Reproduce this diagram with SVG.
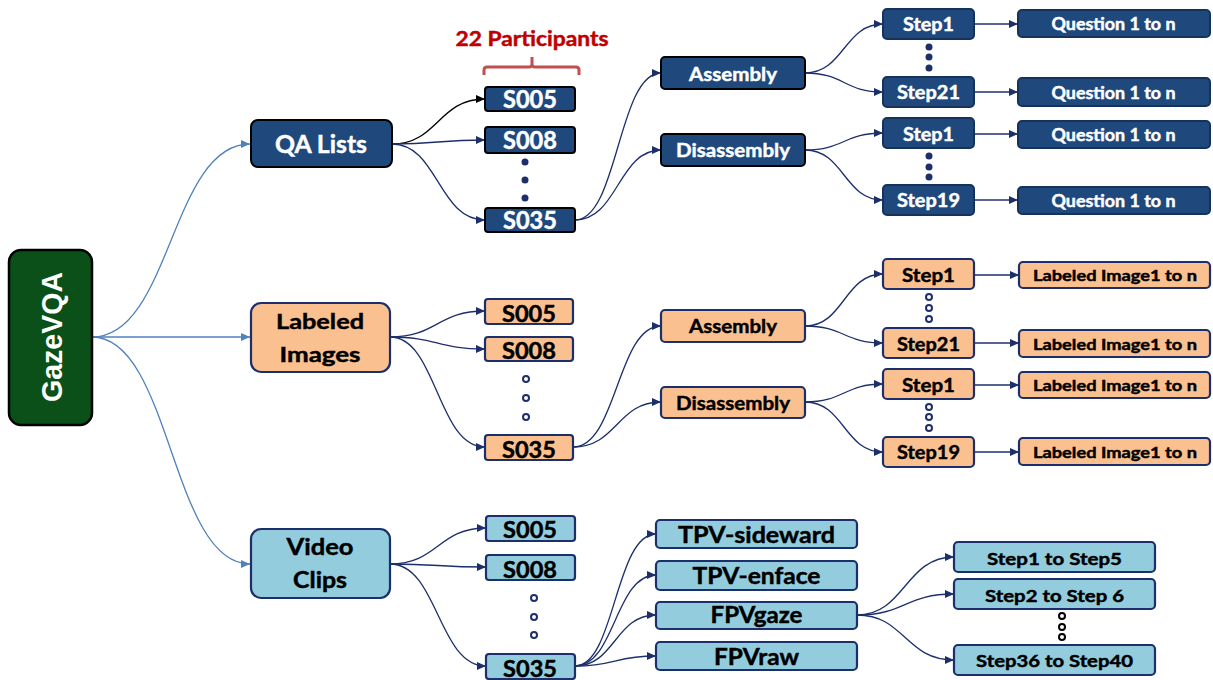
<svg xmlns="http://www.w3.org/2000/svg" width="1213" height="680" viewBox="0 0 1213 680">
<style>
text{font-family:Lato,"Open Sans","Liberation Sans",sans-serif;font-weight:bold;text-anchor:middle;stroke-width:0.45}
.qa{fill:#1f497d;stroke:#000;stroke-width:2}
.qa2{fill:#1f497d;stroke:#14325a;stroke-width:2}
.li{fill:#fac090;stroke:#1c2f6b;stroke-width:2.2}
.vc{fill:#93cddd;stroke:#1c2f6b;stroke-width:2.2}
.tw{fill:#fff;stroke:#fff}
.tb{fill:#000;stroke:#000}
.c{fill:none;stroke:#1c2f6b;stroke-width:1.3;marker-end:url(#an)}
.cb{fill:none;stroke:#4f81bd;stroke-width:1.3;marker-end:url(#ab)}
.ck{fill:none;stroke:#000;stroke-width:1.3;marker-end:url(#ak)}
.df{fill:#1c2f6b}
.dh{fill:#fff;stroke:#1c2f6b;stroke-width:2}
.dk{fill:#fff;stroke:#000;stroke-width:2}
</style>
<defs>
<marker id="an" markerUnits="userSpaceOnUse" markerWidth="9" markerHeight="8" refX="9" refY="4" orient="auto"><path d="M0,0 L9,4 L0,8 z" fill="#1c2f6b"/></marker>
<marker id="ab" markerUnits="userSpaceOnUse" markerWidth="9" markerHeight="8" refX="9" refY="4" orient="auto"><path d="M0,0 L9,4 L0,8 z" fill="#4f81bd"/></marker>
<marker id="ak" markerUnits="userSpaceOnUse" markerWidth="9" markerHeight="8" refX="9" refY="4" orient="auto"><path d="M0,0 L9,4 L0,8 z" fill="#000"/></marker>
</defs>
<rect width="1213" height="680" fill="#fff"/>

<g id="connectors">
<path class="cb" d="M92,337 C171,337 171,144 250,144"/>
<path class="cb" d="M92,337 L250,337"/>
<path class="cb" d="M92,337 C171,337 171,564 250,564"/>
<path class="ck" d="M392,144 C438,144 438,99 485,99"/>
<path class="c" d="M392,144 C438,144 438,140 485,140"/>
<path class="c" d="M392,144 C438,144 438,220 485,220"/>
<path class="c" d="M575,220 C618,220 618,73 661,73"/>
<path class="c" d="M575,220 C618,220 618,150 661,150"/>
<path class="c" d="M805,73 C844,73 844,24 883,24"/>
<path class="c" d="M805,73 C844,73 844,92 883,92"/>
<path class="c" d="M805,150 C844,150 844,133 883,133"/>
<path class="c" d="M805,150 C844,150 844,200 883,200"/>
<path class="c" d="M974,24 L1018,24"/>
<path class="c" d="M974,92 L1018,92"/>
<path class="c" d="M974,134 L1018,134"/>
<path class="c" d="M974,200 L1018,200"/>
<path class="c" d="M390,337 C437,337 437,311 485,311"/>
<path class="c" d="M390,337 C437,337 437,349 485,349"/>
<path class="c" d="M390,337 C437,337 437,447 485,447"/>
<path class="c" d="M573,447 C617,447 617,326 661,326"/>
<path class="c" d="M573,447 C617,447 617,402 661,402"/>
<path class="c" d="M805,326 C844,326 844,274 883,274"/>
<path class="c" d="M805,326 C844,326 844,343 883,343"/>
<path class="c" d="M805,402 C844,402 844,384 883,384"/>
<path class="c" d="M805,402 C844,402 844,452 883,452"/>
<path class="c" d="M974,275 L1019,275"/>
<path class="c" d="M974,343 L1019,343"/>
<path class="c" d="M974,385 L1019,385"/>
<path class="c" d="M974,452 L1019,452"/>
<path class="c" d="M390,564 C438,564 438,528 486,528"/>
<path class="c" d="M390,564 C438,564 438,567 486,567"/>
<path class="c" d="M390,564 C438,564 438,666 486,666"/>
<path class="c" d="M575,666 C615,666 615,534 656,534"/>
<path class="c" d="M575,666 C615,666 615,575 656,575"/>
<path class="c" d="M575,666 C615,666 615,615 656,615"/>
<path class="c" d="M575,666 C615,666 615,656 656,656"/>
<path class="c" d="M857,615 C905,615 905,557 954,557"/>
<path class="c" d="M857,615 C905,615 905,594 954,594"/>
<path class="c" d="M857,615 C905,615 905,660 954,660"/>
</g>

<g id="root">
<rect x="9" y="250" width="83" height="175" rx="12" fill="#0b5018" stroke="#000" stroke-width="2.5"/>
<text transform="translate(62,337) rotate(-90)" style="font-family:'Liberation Sans',Arial,sans-serif;stroke-width:0" font-size="30" fill="#fff" textLength="130" lengthAdjust="spacingAndGlyphs">GazeVQA</text>
</g>

<g id="participants">
<text x="532" y="46" font-size="21" fill="#c00000" stroke="#c00000" textLength="153" lengthAdjust="spacingAndGlyphs">22 Participants</text>
<path d="M484,75 V70 Q484,67 487,67 H529 Q532,67 532,64 V57 M532,64 Q532,67 535,67 H576 Q579,67 579,70 V75" fill="none" stroke="#c0504d" stroke-width="3"/>
</g>

<g id="qa-lists"><rect class="qa" x="251" y="120" width="141" height="47" rx="7"/><text class="tw" x="321" y="153" font-size="25" textLength="92" lengthAdjust="spacingAndGlyphs">QA Lists</text></g>
<g id="qa-s005"><rect class="qa" x="485" y="87" width="90" height="24" rx="3"/><text class="tw" x="530" y="108" font-size="24" textLength="54" lengthAdjust="spacingAndGlyphs">S005</text></g>
<g id="qa-s008"><rect class="qa" x="485" y="127" width="90" height="26" rx="3"/><text class="tw" x="530" y="149" font-size="24" textLength="54" lengthAdjust="spacingAndGlyphs">S008</text></g>
<g id="qa-s035"><rect class="qa" x="485" y="208" width="90" height="24" rx="3"/><text class="tw" x="530" y="229" font-size="24" textLength="54" lengthAdjust="spacingAndGlyphs">S035</text></g>
<g id="qa-dots"><circle class="df" cx="525" cy="162" r="3.5"/><circle class="df" cx="525" cy="180" r="3.5"/><circle class="df" cx="525" cy="198" r="3.5"/></g>
<g id="qa-assembly"><rect class="qa" x="661" y="57" width="144" height="32" rx="4"/><text class="tw" x="733" y="81" font-size="19.5" textLength="88" lengthAdjust="spacingAndGlyphs">Assembly</text></g>
<g id="qa-disassembly"><rect class="qa" x="661" y="134" width="144" height="32" rx="4"/><text class="tw" x="733" y="157" font-size="19.5" textLength="114" lengthAdjust="spacingAndGlyphs">Disassembly</text></g>
<g id="qa-a-step1"><rect class="qa2" x="883" y="9" width="91" height="30" rx="4"/><text class="tw" x="928.5" y="31" font-size="19" textLength="51" lengthAdjust="spacingAndGlyphs">Step1</text></g>
<g id="qa-a-step21"><rect class="qa2" x="883" y="77" width="91" height="30" rx="4"/><text class="tw" x="928.5" y="99" font-size="19" textLength="63" lengthAdjust="spacingAndGlyphs">Step21</text></g>
<g id="qa-d-step1"><rect class="qa2" x="883" y="118" width="91" height="30" rx="4"/><text class="tw" x="928.5" y="141" font-size="19" textLength="51" lengthAdjust="spacingAndGlyphs">Step1</text></g>
<g id="qa-d-step19"><rect class="qa2" x="883" y="185" width="91" height="30" rx="4"/><text class="tw" x="928.5" y="207" font-size="19" textLength="63" lengthAdjust="spacingAndGlyphs">Step19</text></g>
<g id="qa-q1"><rect class="qa2" x="1018" y="10" width="192" height="27" rx="4"/><text class="tw" x="1113.5" y="30" font-size="16.5" textLength="124" lengthAdjust="spacingAndGlyphs">Question 1 to n</text></g>
<g id="qa-q2"><rect class="qa2" x="1018" y="78" width="192" height="28" rx="4"/><text class="tw" x="1113.5" y="98.5" font-size="16.5" textLength="124" lengthAdjust="spacingAndGlyphs">Question 1 to n</text></g>
<g id="qa-q3"><rect class="qa2" x="1018" y="121" width="192" height="27" rx="4"/><text class="tw" x="1113.5" y="141" font-size="16.5" textLength="124" lengthAdjust="spacingAndGlyphs">Question 1 to n</text></g>
<g id="qa-q4"><rect class="qa2" x="1018" y="187" width="192" height="27" rx="4"/><text class="tw" x="1113.5" y="207" font-size="16.5" textLength="124" lengthAdjust="spacingAndGlyphs">Question 1 to n</text></g>
<g id="qa-step-dots"><circle class="df" cx="929" cy="47" r="3.5"/><circle class="df" cx="929" cy="57" r="3.5"/><circle class="df" cx="929" cy="68" r="3.5"/><circle class="df" cx="929" cy="156" r="3.5"/><circle class="df" cx="929" cy="167" r="3.5"/><circle class="df" cx="929" cy="177" r="3.5"/></g>

<g id="labeled-images"><rect class="li" x="251" y="303" width="139" height="69" rx="10"/><text class="tb" x="320" y="329" font-size="21.5" textLength="88" lengthAdjust="spacingAndGlyphs">Labeled</text><text class="tb" x="320" y="362" font-size="21.5" textLength="81" lengthAdjust="spacingAndGlyphs">Images</text></g>
<g id="li-s005"><rect class="li" x="485" y="299" width="88" height="25" rx="3"/><text class="tb" x="529" y="322" font-size="22" textLength="54" lengthAdjust="spacingAndGlyphs">S005</text></g>
<g id="li-s008"><rect class="li" x="485" y="337" width="88" height="24" rx="3"/><text class="tb" x="529" y="359" font-size="22" textLength="54" lengthAdjust="spacingAndGlyphs">S008</text></g>
<g id="li-s035"><rect class="li" x="485" y="435" width="88" height="25" rx="3"/><text class="tb" x="529" y="458" font-size="22" textLength="54" lengthAdjust="spacingAndGlyphs">S035</text></g>
<g id="li-dots"><circle class="dh" cx="526" cy="379" r="3"/><circle class="dh" cx="526" cy="398" r="3"/><circle class="dh" cx="526" cy="417" r="3"/></g>
<g id="li-assembly"><rect class="li" x="661" y="310" width="144" height="32" rx="4"/><text class="tb" x="733" y="333" font-size="19.5" textLength="88" lengthAdjust="spacingAndGlyphs">Assembly</text></g>
<g id="li-disassembly"><rect class="li" x="661" y="387" width="144" height="31" rx="4"/><text class="tb" x="733" y="410" font-size="19.5" textLength="114" lengthAdjust="spacingAndGlyphs">Disassembly</text></g>
<g id="li-a-step1"><rect class="li" x="883" y="259" width="91" height="30" rx="4"/><text class="tb" x="928.5" y="282" font-size="19" textLength="53" lengthAdjust="spacingAndGlyphs">Step1</text></g>
<g id="li-a-step21"><rect class="li" x="883" y="328" width="91" height="30" rx="4"/><text class="tb" x="928.5" y="351" font-size="19" textLength="63" lengthAdjust="spacingAndGlyphs">Step21</text></g>
<g id="li-d-step1"><rect class="li" x="883" y="369" width="91" height="30" rx="4"/><text class="tb" x="928.5" y="392" font-size="19" textLength="53" lengthAdjust="spacingAndGlyphs">Step1</text></g>
<g id="li-d-step19"><rect class="li" x="883" y="437" width="91" height="30" rx="4"/><text class="tb" x="928.5" y="459" font-size="19" textLength="63" lengthAdjust="spacingAndGlyphs">Step19</text></g>
<g id="li-img1"><rect class="li" x="1019" y="262" width="191" height="26" rx="4"/><text class="tb" x="1115" y="281" font-size="15.5" textLength="164" lengthAdjust="spacingAndGlyphs">Labeled Image1 to n</text></g>
<g id="li-img2"><rect class="li" x="1019" y="330" width="191" height="27" rx="4"/><text class="tb" x="1115" y="350" font-size="15.5" textLength="164" lengthAdjust="spacingAndGlyphs">Labeled Image1 to n</text></g>
<g id="li-img3"><rect class="li" x="1019" y="372" width="191" height="26" rx="4"/><text class="tb" x="1115" y="391" font-size="15.5" textLength="164" lengthAdjust="spacingAndGlyphs">Labeled Image1 to n</text></g>
<g id="li-img4"><rect class="li" x="1019" y="438" width="191" height="27" rx="4"/><text class="tb" x="1115" y="458" font-size="15.5" textLength="164" lengthAdjust="spacingAndGlyphs">Labeled Image1 to n</text></g>
<g id="li-step-dots"><circle class="dh" cx="929" cy="297" r="3"/><circle class="dh" cx="929" cy="308" r="3"/><circle class="dh" cx="929" cy="319" r="3"/><circle class="dh" cx="929" cy="407" r="3"/><circle class="dh" cx="929" cy="417" r="3"/><circle class="dh" cx="929" cy="428" r="3"/></g>

<g id="video-clips"><rect class="vc" x="251" y="529" width="139" height="69" rx="10"/><text class="tb" x="320" y="555" font-size="22.5" textLength="67" lengthAdjust="spacingAndGlyphs">Video</text><text class="tb" x="320" y="588" font-size="22.5" textLength="54" lengthAdjust="spacingAndGlyphs">Clips</text></g>
<g id="vc-s005"><rect class="vc" x="486" y="516" width="89" height="25" rx="3"/><text class="tb" x="530" y="538" font-size="23" textLength="54" lengthAdjust="spacingAndGlyphs">S005</text></g>
<g id="vc-s008"><rect class="vc" x="486" y="555" width="89" height="25" rx="3"/><text class="tb" x="530" y="578" font-size="23" textLength="54" lengthAdjust="spacingAndGlyphs">S008</text></g>
<g id="vc-s035"><rect class="vc" x="486" y="654" width="89" height="25" rx="3"/><text class="tb" x="530" y="677" font-size="23" textLength="54" lengthAdjust="spacingAndGlyphs">S035</text></g>
<g id="vc-dots"><circle class="dh" cx="534" cy="598" r="3"/><circle class="dh" cx="534" cy="617" r="3"/><circle class="dh" cx="534" cy="635" r="3"/></g>
<g id="tpv-sideward"><rect class="vc" x="656" y="520" width="201" height="28" rx="4"/><text class="tb" x="756.5" y="543" font-size="23" textLength="157" lengthAdjust="spacingAndGlyphs">TPV-sideward</text></g>
<g id="tpv-enface"><rect class="vc" x="656" y="561" width="201" height="29" rx="4"/><text class="tb" x="756.5" y="584" font-size="23" textLength="128" lengthAdjust="spacingAndGlyphs">TPV-enface</text></g>
<g id="fpvgaze"><rect class="vc" x="656" y="602" width="201" height="27" rx="4"/><text class="tb" x="756.5" y="623" font-size="23" textLength="92" lengthAdjust="spacingAndGlyphs">FPVgaze</text></g>
<g id="fpvraw"><rect class="vc" x="656" y="642" width="201" height="28" rx="4"/><text class="tb" x="756.5" y="665" font-size="23" textLength="85" lengthAdjust="spacingAndGlyphs">FPVraw</text></g>
<g id="step1-5"><rect class="vc" x="954" y="542" width="201" height="30" rx="4"/><text class="tb" x="1054.5" y="565" font-size="17" textLength="135" lengthAdjust="spacingAndGlyphs">Step1 to Step5</text></g>
<g id="step2-6"><rect class="vc" x="954" y="579" width="201" height="30" rx="4"/><text class="tb" x="1054.5" y="602" font-size="17" textLength="139" lengthAdjust="spacingAndGlyphs">Step2 to Step 6</text></g>
<g id="step36-40"><rect class="vc" x="954" y="645" width="201" height="30" rx="4"/><text class="tb" x="1054.5" y="667" font-size="17" textLength="157" lengthAdjust="spacingAndGlyphs">Step36 to Step40</text></g>
<g id="vc-step-dots"><circle class="dk" cx="1062" cy="616" r="3"/><circle class="dk" cx="1062" cy="627" r="3"/><circle class="dk" cx="1062" cy="637" r="3"/></g>
</svg>
